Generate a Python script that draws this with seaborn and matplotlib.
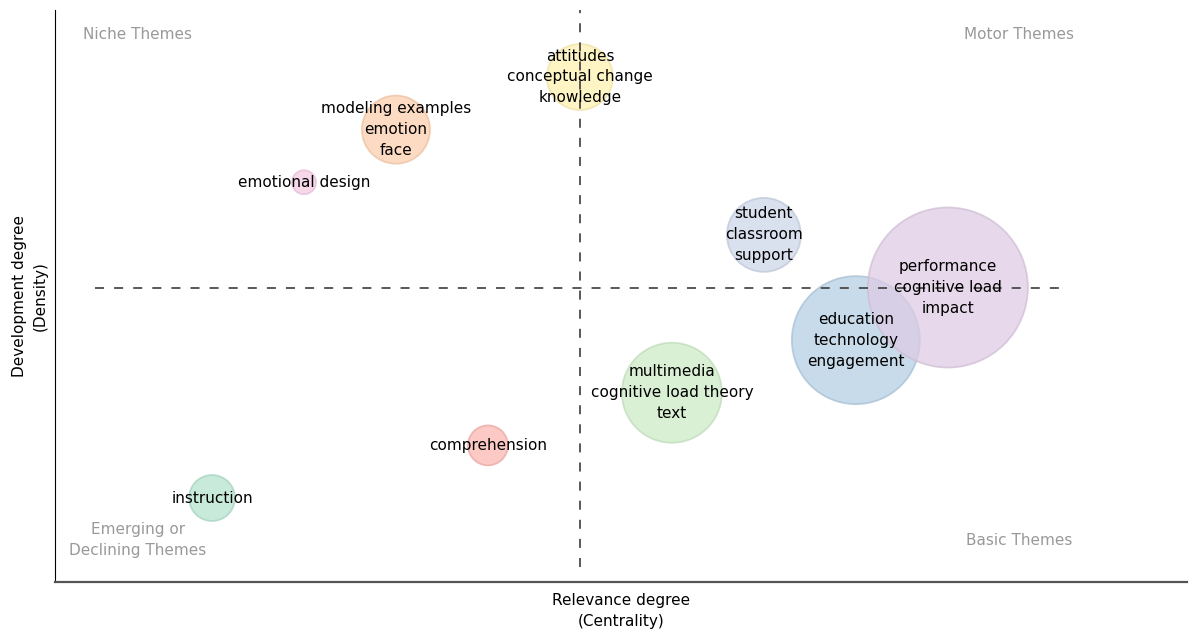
import matplotlib
matplotlib.use("Agg")
import matplotlib.pyplot as plt
import matplotlib.colors as mcolors
import numpy as np
import pandas as pd
import seaborn as sns

# ── Thematic map data (rank-based centrality / density) ──
labels = [
    "instruction",
    "emotional design",
    "modeling examples\nemotion\nface",
    "comprehension",
    "attitudes\nconceptual change\nknowledge",
    "multimedia\ncognitive load theory\ntext",
    "student\nclassroom\nsupport",
    "education\ntechnology\nengagement",
    "performance\ncognitive load\nimpact",
]
centrality = [1, 2, 3, 4, 5, 6, 7, 8, 9]
density = [1, 7, 8, 2, 9, 3, 6, 4, 5]
freq = [66, 18, 145, 50, 136, 312, 171, 512, 800]
colors = ["#B3E2CD", "#F4CAE4", "#FDCDAC", "#FBB4AE", "#FFF2AE",
          "#CCEBC5", "#CBD5E8", "#B3CDE3", "#DECBE4"]

quadrants = ["Niche Themes", "Motor Themes",
             "Emerging or\nDeclining Themes", "Basic Themes"]

df = pd.DataFrame({"label": labels, "x": centrality, "y": density,
                   "freq": freq, "color": colors})

sns.set_style("white")
plt.rcParams["font.family"] = ["DejaVu Sans"]

fig = plt.figure(figsize=(12, 6.41), dpi=100)
ax = fig.add_axes([0.04583, 0.09204, 0.94333, 0.89236])

# marker areas in pt^2 for radius 12 px .. 80 px
pt = 0.72
size_range = ((2 * 12 * pt) ** 2, (2 * 80 * pt) ** 2)

sns.scatterplot(data=df, x="x", y="y", size="freq", sizes=size_range,
                hue="label", palette=dict(zip(labels, colors)),
                alpha=0.72, legend=False, ax=ax, zorder=2)
coll = ax.collections[0]
edge = [tuple(np.clip(np.array(mcolors.to_rgb(c)) * 0.93, 0, 1)) + (0.9,) for c in colors]
coll.set_edgecolor(edge)
coll.set_linewidth(1.3)

ax.set_xlim(-0.707, 11.6)
ax.set_ylim(-0.596, 10.273)

# reference lines at the mean rank
mx, my = np.mean(centrality), np.mean(density)
dash = (0, (5.2, 5.8))
ax.plot([-0.272, 10.25], [my, my], color="#444444", lw=1.25, ls=dash, zorder=3)
ax.plot([mx, mx], [-0.311, 10.273], color="#444444", lw=1.25, ls=dash, zorder=3)

for _, r in df.iterrows():
    ax.text(r["x"], r["y"], r["label"], ha="center", va="center",
            fontsize=11, linespacing=1.49, color="black", zorder=4)

qcol = "#999999"
ax.text(0.0733, 0.958, quadrants[0], transform=ax.transAxes, ha="center",
        va="center", fontsize=11, color=qcol)
ax.text(0.8516, 0.958, quadrants[1], transform=ax.transAxes, ha="center",
        va="center", fontsize=11, color=qcol)
ax.text(0.0733, 0.0734, quadrants[2], transform=ax.transAxes, ha="center",
        va="center", fontsize=11, color=qcol, linespacing=1.49)
ax.text(0.8516, 0.0734, quadrants[3], transform=ax.transAxes, ha="center",
        va="center", fontsize=11, color=qcol)

ax.set_xticks([])
ax.set_yticks([])
ax.set_xlabel("Relevance degree\n(Centrality)", fontsize=11, labelpad=8,
              linespacing=1.49, color="black")
ax.set_ylabel("Development degree\n(Density)", fontsize=11, labelpad=5,
              linespacing=1.49, color="black")

sns.despine(ax=ax)
ax.spines["left"].set_color("black")
ax.spines["left"].set_linewidth(0.8)
ax.spines["bottom"].set_color("#555555")
ax.spines["bottom"].set_linewidth(1.6)

fig.savefig("out.png", dpi=100)
